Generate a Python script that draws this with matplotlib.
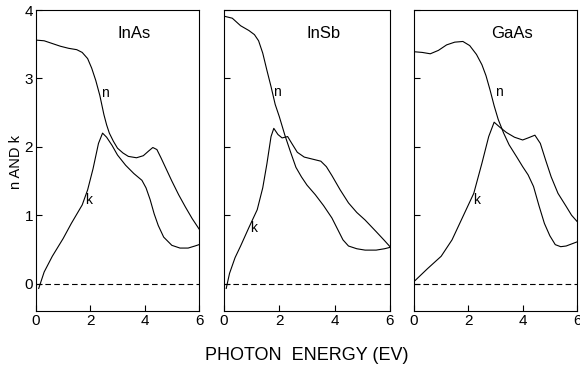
import matplotlib.pyplot as plt

plt.rcParams['font.family'] = ['Liberation Sans', 'DejaVu Sans']

# InAs
inas_n_x = [0, 0.3, 0.6, 0.9, 1.2, 1.5, 1.7, 1.9, 2.05, 2.2, 2.35, 2.5, 2.6, 2.7, 2.85, 3.0, 3.2, 3.4, 3.7, 3.95, 4.15, 4.3, 4.45, 4.6, 4.8, 5.0, 5.25, 5.5, 5.75, 6.0]
inas_n_y = [3.56, 3.55, 3.51, 3.47, 3.44, 3.42, 3.38, 3.29, 3.15, 2.97, 2.75, 2.47, 2.32, 2.2, 2.08, 1.98, 1.91, 1.86, 1.84, 1.87, 1.94, 1.99, 1.96, 1.84, 1.67, 1.5, 1.3, 1.12, 0.95, 0.8]
inas_k_x = [0.1, 0.3, 0.6, 1.0, 1.3, 1.7, 1.9, 2.1, 2.3, 2.45, 2.6, 2.8, 3.0, 3.3, 3.6, 3.9, 4.05, 4.2, 4.35, 4.5, 4.7, 5.0, 5.3, 5.6, 5.85, 6.0]
inas_k_y = [-0.07, 0.17, 0.4, 0.66, 0.88, 1.15, 1.37, 1.68, 2.05, 2.2, 2.14, 2.02, 1.88, 1.73, 1.61, 1.51, 1.4, 1.23, 1.02, 0.85, 0.68, 0.56, 0.52, 0.52, 0.55, 0.57]

# InSb
insb_n_x = [0, 0.3, 0.6, 0.9, 1.1, 1.25, 1.4, 1.55, 1.7, 1.85, 2.0, 2.2, 2.4, 2.6, 2.8, 3.0, 3.3, 3.6, 3.9, 4.1, 4.3, 4.5, 4.8, 5.1, 5.5, 5.8, 6.0]
insb_n_y = [3.91, 3.88, 3.77, 3.7, 3.64, 3.55, 3.37, 3.12, 2.88, 2.62, 2.44, 2.17, 1.93, 1.7, 1.56, 1.44, 1.3, 1.14, 0.96, 0.8, 0.64, 0.55, 0.51, 0.49, 0.49, 0.51, 0.53]
insb_k_x = [0.08, 0.2, 0.4, 0.6, 0.9, 1.2, 1.4, 1.55, 1.7, 1.8, 1.95, 2.1, 2.3, 2.45, 2.65, 2.9, 3.2, 3.5, 3.7, 3.9, 4.2, 4.5, 4.8, 5.1, 5.5, 5.8, 6.0]
insb_k_y = [-0.07, 0.15, 0.38, 0.55, 0.82, 1.08, 1.4, 1.75, 2.15, 2.27, 2.18, 2.13, 2.15, 2.05, 1.92, 1.85, 1.82, 1.79, 1.71, 1.58, 1.37, 1.18, 1.04, 0.93, 0.76, 0.63, 0.54]

# GaAs
gaas_n_x = [0, 0.3, 0.6, 0.9, 1.2, 1.5, 1.8, 2.05, 2.3, 2.5, 2.65, 2.8, 2.95, 3.1, 3.3, 3.5, 3.8, 4.0, 4.2, 4.4, 4.6, 4.8, 5.0, 5.2, 5.4, 5.6, 5.8, 6.0]
gaas_n_y = [3.39, 3.38, 3.36, 3.41, 3.49, 3.53, 3.54, 3.48, 3.35, 3.2, 3.04, 2.83, 2.6, 2.4, 2.2, 2.03, 1.84, 1.71, 1.59, 1.42, 1.14, 0.88, 0.7, 0.57, 0.54, 0.55, 0.58, 0.61]
gaas_k_x = [0, 0.5, 1.0, 1.4, 1.8, 2.2, 2.5, 2.75, 2.95, 3.15, 3.4, 3.7, 4.0, 4.2, 4.45, 4.65, 4.85, 5.05, 5.3, 5.6, 5.8, 6.0]
gaas_k_y = [0.03, 0.22, 0.4, 0.64, 0.98, 1.32, 1.76, 2.15, 2.36, 2.29, 2.21, 2.14, 2.1, 2.13, 2.17, 2.05, 1.8, 1.56, 1.32, 1.13, 1.0, 0.91]

materials = ['InAs', 'InSb', 'GaAs']
n_data = [(inas_n_x, inas_n_y), (insb_n_x, insb_n_y), (gaas_n_x, gaas_n_y)]
k_data = [(inas_k_x, inas_k_y), (insb_k_x, insb_k_y), (gaas_k_x, gaas_k_y)]
# where the little n / k letters sit
n_label_pos = [(2.55, 2.79), (1.92, 2.8), (3.14, 2.8)]
k_label_pos = [(1.94, 1.22), (1.07, 0.81), (2.29, 1.22)]

fig = plt.figure(figsize=(5.8, 3.68), dpi=100)
lefts = [36 / 580, 224 / 580, 414 / 580]
widths = [163 / 580, 166 / 580, 163 / 580]
bottom = 1 - 311 / 368
height = (311 - 10) / 368

for i in range(3):
    ax = fig.add_axes([lefts[i], bottom, widths[i], height])
    ax.plot(n_data[i][0], n_data[i][1], color='black', lw=0.8)
    ax.plot(k_data[i][0], k_data[i][1], color='black', lw=0.8)
    ax.axhline(0, color='black', lw=0.8, ls=(0, (5, 3)))
    ax.set_xlim(0, 6)
    ax.set_ylim(-0.4, 4)
    ax.set_xticks([0, 2, 4, 6])
    ax.set_yticks([0, 1, 2, 3, 4])
    ax.tick_params(direction='in', length=4, width=0.8, labelsize=11, pad=2)
    if i > 0:
        ax.set_yticklabels([])
    for s in ax.spines.values():
        s.set_linewidth(0.8)
    ax.text(n_label_pos[i][0], n_label_pos[i][1], 'n', fontsize=10, ha='center', va='center')
    ax.text(k_label_pos[i][0], k_label_pos[i][1], 'k', fontsize=10, ha='center', va='center')
    ax.text(3.6, 3.66, materials[i], fontsize=12, ha='center', va='center')

fig.text(16 / 580, 1 - 162 / 368, 'n AND k', fontsize=10.5, rotation=90, ha='center', va='center')
fig.text(307 / 580, 1 - 355 / 368, 'PHOTON  ENERGY (EV)', fontsize=13, ha='center', va='center')

fig.savefig('out.png', dpi=100)
